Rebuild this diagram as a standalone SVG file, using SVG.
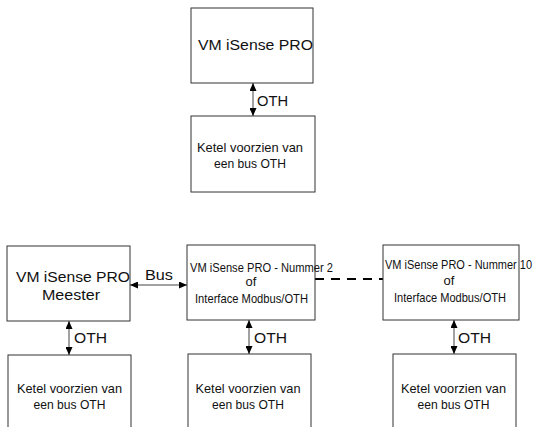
<svg xmlns="http://www.w3.org/2000/svg" width="536" height="427" viewBox="0 0 536 427">
<style>
.box{fill:#fff;stroke:#333;stroke-width:1}
.t{font-family:"Liberation Sans",Arial,sans-serif;font-size:13px;fill:#111}
.l{font-size:14px}
.m{text-anchor:middle}
.c{stroke:#444;stroke-width:1;fill:none}
.d{stroke:#000;stroke-width:2;stroke-dasharray:9 7;fill:none}
</style>
<defs>
<marker id="ah" markerUnits="userSpaceOnUse" markerWidth="8" markerHeight="7" refX="8" refY="3.5" orient="auto-start-reverse">
<path d="M0,0 L8,3.5 L0,7 z" fill="#000"/>
</marker>
</defs>
<rect width="536" height="427" fill="#fff"/>
<g id="connectors">
<line class="c" x1="253" y1="83" x2="253" y2="116" marker-start="url(#ah)" marker-end="url(#ah)"/>
<text class="t l" x="257" y="106" textLength="31" lengthAdjust="spacingAndGlyphs">OTH</text>
<line class="c" x1="130" y1="285" x2="187" y2="285" marker-start="url(#ah)" marker-end="url(#ah)"/>
<text class="t l" x="145" y="280" textLength="28" lengthAdjust="spacingAndGlyphs">Bus</text>
<line class="d" x1="315" y1="279" x2="383" y2="279"/>
<line class="c" x1="69" y1="321" x2="69" y2="355" marker-start="url(#ah)" marker-end="url(#ah)"/>
<text class="t l" x="74" y="343" textLength="33" lengthAdjust="spacingAndGlyphs">OTH</text>
<line class="c" x1="249" y1="320" x2="249" y2="354" marker-start="url(#ah)" marker-end="url(#ah)"/>
<text class="t l" x="254" y="343" textLength="33" lengthAdjust="spacingAndGlyphs">OTH</text>
<line class="c" x1="454" y1="320" x2="454" y2="354" marker-start="url(#ah)" marker-end="url(#ah)"/>
<text class="t l" x="458" y="343" textLength="33" lengthAdjust="spacingAndGlyphs">OTH</text>
</g>
<g id="vm-top">
<rect class="box" x="191" y="8" width="122" height="75"/>
<text class="t l" x="198" y="50" textLength="115" lengthAdjust="spacingAndGlyphs">VM iSense PRO</text>
</g>
<g id="ketel-top">
<rect class="box" x="191" y="116" width="124" height="76"/>
<text class="t m" x="250" y="152" textLength="106" lengthAdjust="spacingAndGlyphs">Ketel voorzien van</text>
<text class="t m" x="250" y="168" textLength="72" lengthAdjust="spacingAndGlyphs">een bus OTH</text>
</g>
<g id="vm-meester">
<rect class="box" x="7" y="246" width="123" height="75"/>
<text class="t l" x="16" y="282" textLength="114" lengthAdjust="spacingAndGlyphs">VM iSense PRO</text>
<text class="t l m" x="71" y="300" textLength="58" lengthAdjust="spacingAndGlyphs">Meester</text>
</g>
<g id="vm-2">
<rect class="box" x="187" y="245" width="128" height="75"/>
<text class="t" x="190" y="272" textLength="143" lengthAdjust="spacingAndGlyphs">VM iSense PRO - Nummer 2</text>
<text class="t m" x="251" y="286">of</text>
<text class="t" x="195" y="303" textLength="113" lengthAdjust="spacingAndGlyphs">Interface Modbus/OTH</text>
</g>
<g id="vm-10">
<rect class="box" x="383" y="245" width="136" height="75"/>
<text class="t" x="385" y="269" textLength="147" lengthAdjust="spacingAndGlyphs">VM iSense PRO - Nummer 10</text>
<text class="t m" x="449" y="285">of</text>
<text class="t" x="394" y="302" textLength="112" lengthAdjust="spacingAndGlyphs">Interface Modbus/OTH</text>
</g>
<g id="ketel-1">
<rect class="box" x="8" y="355" width="123" height="80"/>
<text class="t m" x="69.5" y="393" textLength="105" lengthAdjust="spacingAndGlyphs">Ketel voorzien van</text>
<text class="t m" x="69.5" y="409" textLength="72" lengthAdjust="spacingAndGlyphs">een bus OTH</text>
</g>
<g id="ketel-2">
<rect class="box" x="188" y="354" width="123" height="80"/>
<text class="t m" x="248" y="393" textLength="105" lengthAdjust="spacingAndGlyphs">Ketel voorzien van</text>
<text class="t m" x="248" y="409" textLength="72" lengthAdjust="spacingAndGlyphs">een bus OTH</text>
</g>
<g id="ketel-3">
<rect class="box" x="393" y="354" width="123" height="80"/>
<text class="t m" x="453.5" y="393" textLength="105" lengthAdjust="spacingAndGlyphs">Ketel voorzien van</text>
<text class="t m" x="453.5" y="409" textLength="72" lengthAdjust="spacingAndGlyphs">een bus OTH</text>
</g>
</svg>
